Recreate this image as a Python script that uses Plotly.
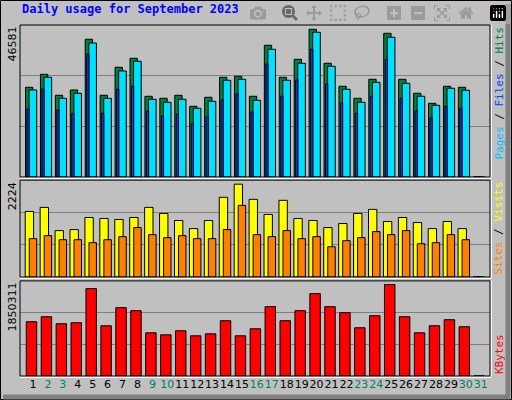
import plotly.graph_objects as go

days = list(range(1, 32))
hits = [28290,32390,25770,27440,43430,25770,34600,37440,25450,24820,25770,22300,25140,31450,31760,
        25450,41540,31450,37120,46581,35860,28610,24820,30810,45320,30810,26400,23240,28610,28290,0]
files = [27440,31450,24820,26400,42260,24820,33430,36490,24510,23560,24510,21670,23880,30500,30810,
         24190,40280,30500,35860,45640,34910,27660,23560,29870,44060,29550,25450,22610,27980,27350,0]
pages = [21450,27760,21130,20090,38790,20090,27760,28700,20820,19240,19780,16720,18920,24290,26180,
         20500,35640,25450,30590,40280,29330,23340,20090,25450,37120,24820,20820,18610,22300,21670,0]
visits = [1571,1668,1112,1136,1426,1402,1378,1426,1668,1523,1354,1160,1354,1910,2224,
          1861,1499,1837,1402,1354,1185,1281,1523,1620,1330,1426,1305,1160,1330,1160,0]
sites = [919,991,894,894,822,894,967,1185,1015,943,991,919,919,1136,1716,
         1015,967,1112,919,967,725,870,943,1088,1015,1112,798,822,1015,894,0]
kbytes = [1098000,1199700,1057400,1077700,1769100,1016700,1382700,1321700,874400,833700,915000,813400,854000,1118400,813400,
          955700,1403000,1118400,1321700,1667400,1403000,1281000,976000,1220000,1850311,1199700,874400,1016700,1138700,996400,0]
weekend = {2,3,9,10,16,17,23,24,30,31}
max_hits, max_visits, max_kb = "46581", "2224", "1850311"

line = dict(color="black", width=1)
fig = go.Figure()
fig.add_bar(x=days, y=hits, offset=-0.5, width=0.49, marker=dict(color="#008040", line=line), yaxis="y")
fig.add_bar(x=days, y=files, offset=-0.26, width=0.51, marker=dict(color="#00E0FF", line=line), yaxis="y")
fig.add_bar(x=days, y=pages, offset=-0.4, width=0.15, marker=dict(color="#0040FF", line=line), yaxis="y")
fig.add_bar(x=days, y=visits, offset=-0.52, width=0.56, marker=dict(color="#FFFF00", line=line), yaxis="y2")
fig.add_bar(x=days, y=sites, offset=-0.25, width=0.5, marker=dict(color="#FF8000", line=line), yaxis="y2")
fig.add_bar(x=days, y=kbytes, offset=-0.45, width=0.7, marker=dict(color="#FF0000", line=line), yaxis="y3")

r1 = max(hits) * 152 / 147.7
r2 = max(visits) * 96 / 92
r3 = max(kbytes) * 284 / 273
def yax(dom, r):
    return dict(domain=dom, range=[0, r], tickvals=[r/3, 2*r/3], showticklabels=False,
                showgrid=True, gridcolor="#808080", gridwidth=1, zeroline=False, fixedrange=True)

ticktext = [f'<span style="color:{"#008060" if d in weekend else "black"}">{d}</span>' for d in days]
fig.update_layout(
    width=512, height=400, margin=dict(l=20, r=22, t=25, b=24, autoexpand=False),
    paper_bgcolor="#C0C0C0", plot_bgcolor="#C0C0C0", barmode="overlay", showlegend=False,
    xaxis=dict(range=[0.13, 31.62], tickvals=days, ticktext=ticktext, ticks="", showgrid=False,
               tickangle=0, tickfont=dict(family="DejaVu Sans", size=11), anchor="y3"),
    yaxis=yax([0.567, 1], r1), yaxis2=yax([0.282, 0.558], r2), yaxis3=yax([0, 0.271], r3),
)

shapes = []
shapes.append(dict(type="rect", xref="paper", yref="paper", x0=-19.5/470, x1=(511.5-20)/470,
                   y0=-23.5/351, y1=1+24.5/351, line=dict(color="black", width=1)))
shapes.append(dict(type="line", xref="paper", yref="paper", x0=(508-20)/470, x1=(508-20)/470,
                   y0=-21/351, y1=1+21/351, line=dict(color="#808080", width=5)))
shapes.append(dict(type="line", xref="paper", yref="paper", x0=-17/470, x1=(510-20)/470,
                   y0=-21/351, y1=-21/351, line=dict(color="#808080", width=5)))
for dom in ([0.567, 1], [0.282, 0.558], [0, 0.271]):
    shapes.append(dict(type="rect", xref="paper", yref="paper", x0=0, x1=1, y0=dom[0], y1=dom[1],
                       line=dict(color="black", width=1)))
    shapes.append(dict(type="line", xref="paper", yref="paper", x0=1.003, x1=1.003, y0=dom[0], y1=dom[1],
                       line=dict(color="white", width=1)))
    shapes.append(dict(type="line", xref="paper", yref="paper", x0=0, x1=1.003, y0=dom[0]-0.004, y1=dom[0]-0.004,
                       line=dict(color="white", width=1)))
fig.update_layout(shapes=shapes)

mono = "DejaVu Sans Mono"
ann = [
    dict(text="<b>Daily usage for September 2023</b>", x=0, y=1 + 16/351, xref="paper", yref="paper",
         xanchor="left", yanchor="middle", showarrow=False, font=dict(family=mono, size=12, color="#0000FF")),
    dict(text=max_hits, x=-8/470, y=1.0, xref="paper", yref="paper", textangle=-90, xanchor="center",
         yanchor="top", showarrow=False, font=dict(family="DejaVu Sans", size=11, color="black")),
    dict(text=max_visits, x=-8/470, y=0.558, xref="paper", yref="paper", textangle=-90, xanchor="center",
         yanchor="top", showarrow=False, font=dict(family="DejaVu Sans", size=11, color="black")),
    dict(text=max_kb, x=-8/470, y=0.271, xref="paper", yref="paper", textangle=-90, xanchor="center",
         yanchor="top", showarrow=False, font=dict(family="DejaVu Sans", size=11, color="black")),
    dict(text='<span style="color:#00C0FF">Pages</span> / <span style="color:#0040FF">Files</span> / <span style="color:#008040">Hits</span>',
         x=1 + 9/470, y=1.0, xref="paper", yref="paper", textangle=-90, xanchor="center", yanchor="top",
         showarrow=False, font=dict(family=mono, size=11, color="black")),
    dict(text='<span style="color:#FF8000">Sites</span> / <span style="color:#FFFF00">Visits</span>',
         x=1 + 9/470, y=0.558, xref="paper", yref="paper", textangle=-90, xanchor="center", yanchor="top",
         showarrow=False, font=dict(family=mono, size=11, color="black")),
    dict(text='<span style="color:#FF0000">KBytes</span>',
         x=1 + 9/470, y=0.0, xref="paper", yref="paper", textangle=-90, xanchor="center", yanchor="bottom",
         showarrow=False, font=dict(family=mono, size=11, color="black")),
]
fig.update_layout(annotations=ann)
fig.write_html("out.html", post_script="document.body.style.margin='0';document.body.style.overflow='hidden';")
